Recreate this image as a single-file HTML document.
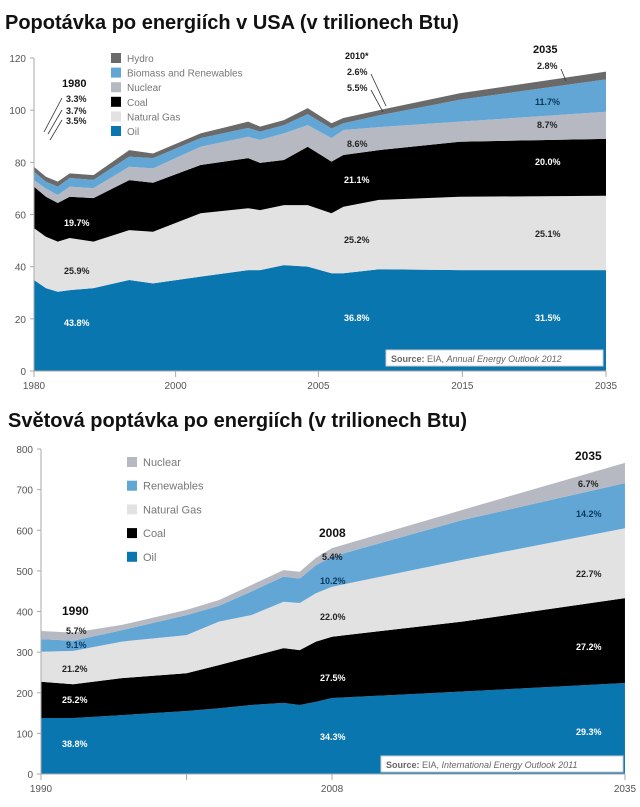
<!DOCTYPE html>
<html><head><meta charset="utf-8"><style>
body{margin:0;background:#fff;width:640px;height:807px;overflow:hidden;font-family:"Liberation Sans","DejaVu Sans",sans-serif}
svg{display:block}
text{font-family:"Liberation Sans","DejaVu Sans",sans-serif}
</style></head><body>
<svg id="c" width="640" height="807">
<text x="5" y="29" font-size="20" font-weight="bold" fill="#111">Popotávka po energiích v USA (v trilionech Btu)</text>
<text x="8" y="427" font-size="20" font-weight="bold" fill="#111">Světová poptávka po energiích (v trilionech Btu)</text>
<g id="top"></g>
<g id="bot"></g>
</svg>
<script>
// ---- US chart data (quadrillion Btu, layer values) ----
const usYears = [1980,1981,1982,1983,1985,1988,1990,1994,1998,1999,2001,2003,2005,2006,2009,2018,2035];
const usOil   = [34.9,31.8,30.4,31.0,31.8,34.9,33.6,36.2,38.7,38.7,40.6,40.0,37.5,37.5,39.0,38.7,38.7];
const usGas   = [19.9,19.7,19.2,20.0,17.8,19.1,19.8,24.3,23.7,23.0,23.0,23.6,23.0,25.5,26.6,28.1,28.5];
const usCoal  = [15.9,15.3,14.8,15.8,16.7,19.2,18.8,18.5,19.2,18.1,17.3,22.4,19.8,19.8,19.1,21.1,21.8];
const usNuc   = [2.5,3.2,3.1,3.9,3.8,5.1,5.5,7.0,8.2,8.8,10.2,8.3,9.0,9.6,8.8,7.7,10.4];
const usBio   = [3.2,2.6,3.2,3.3,3.2,3.9,3.9,3.3,3.4,3.2,3.2,4.2,3.7,2.6,4.5,8.4,12.4];
const usHydro = [1.9,1.9,1.9,1.8,1.8,2.5,1.8,1.8,2.4,1.9,1.9,2.3,2.0,2.0,2.0,2.5,3.0];
const usTickLabels = ["1980","2000","2005","2015","2035"];
const usTickAt = [1980,1991.9,2003.9,2018.3,2035];
const usYTicks = [0,20,40,60,80,100,120];
// ---- World chart data ----
const wYears = [1990,1992,1995,1999,2001,2003,2005,2006,2007,2008,2020,2035];
const wOil   = [138,138,145,155,162,170,175,170,178,187,203,224];
const wCoal  = [89,83,91,93,106,119,135,135,148,151,172,209];
const wGas   = [74,82,90,94,107,102,114,116,119,123,152,172];
const wRen   = [31,25,28,49,39,58,62,60,69,74,98,111];
const wNuc   = [20,20,13,13,14,16,16,17,18,21,25,50];
const wTickLabels = ["1990","","2008","2035"];
const wTickAt = [1990,1999,2008,2035];
const wYTicks = [0,100,200,300,400,500,600,700,800];

const NS="http://www.w3.org/2000/svg";
function mk(p,tag,attrs){const e=document.createElementNS(NS,tag);for(const k in attrs)e.setAttribute(k,attrs[k]);p.appendChild(e);return e;}
function txt(p,x,y,s,size,fill,weight,anchor,style){const t=mk(p,'text',{x:x,y:y,'font-size':size,fill:fill,'font-weight':weight||'normal','text-anchor':anchor||'start'});if(style)t.setAttribute('font-style',style);t.textContent=s;return t;}

function drawChart(g,years,layers,colors,names,xs,ys,yTicks,tickLabels,tickAt,x0,x1,y0){
  let cum=years.map(()=>0);
  layers.forEach((L,li)=>{
    const lo=cum.slice();cum=cum.map((c,i)=>c+L[i]);
    let d='M'+years.map((yr,i)=>xs(yr)+','+ys(cum[i])).join('L');
    for(let i=years.length-1;i>=0;i--)d+='L'+xs(years[i])+','+ys(lo[i]);
    const p=mk(g,'path',{d:d+'Z',fill:colors[li]});
    
    
  });
  mk(g,'line',{x1:x0,y1:ys(yTicks[yTicks.length-1]),x2:x0,y2:y0,stroke:'#aaa','stroke-width':1});
  mk(g,'line',{x1:x0,y1:y0,x2:x1,y2:y0,stroke:'#aaa','stroke-width':1});
  yTicks.forEach(v=>{
    mk(g,'line',{x1:x0-4,y1:ys(v),x2:x0,y2:ys(v),stroke:'#aaa'});
    const t=txt(g,x0-8,ys(v)+4,String(v),10,'#555','normal','end');
    
    
  });
  tickAt.forEach((yr,i)=>{
    mk(g,'line',{x1:xs(yr),y1:y0,x2:xs(yr),y2:y0+6,stroke:'#aaa'});
    const t=txt(g,xs(yr),y0+18,tickLabels[i],10,'#555','normal','middle');
    
    
  });
}

// US chart
const T=document.getElementById('top');
const usX=y=>y<=2010?34+(y-1980)*11.9:391+(y-2010)*8.6;
const usY=v=>371-v*2.608;
drawChart(T,usYears,[usOil,usGas,usCoal,usNuc,usBio,usHydro],
 ['#0a76b0','#e2e2e2','#000','#b6b9c2','#62a6d6','#6a6a6a'],
 ['oil','natural-gas','coal','nuclear','biomass','hydro'],usX,usY,usYTicks,usTickLabels,usTickAt,34,606,371);
const usLeg=[['Hydro','#6a6a6a'],['Biomass and Renewables','#62a6d6'],['Nuclear','#b6b9c2'],['Coal','#000'],['Natural Gas','#e2e2e2'],['Oil','#0a76b0']];
usLeg.forEach((l,i)=>{const y=53+i*14.6;const g=mk(T,'g',{});
 
 
 mk(g,'rect',{x:111,y:y,width:10,height:10,fill:l[1]});txt(g,127,y+9,l[0],10,'#777');});
// annotations US
[['1980',62,87,'#111',true],['3.3%',66,102,'#222'],['3.7%',66,114,'#222'],['3.5%',66,124,'#222'],
 ['19.7%',64,226,'#fff'],['25.9%',64,274,'#222'],['43.8%',64,326,'#fff'],
 ['2010*',345,59,'#111'],['2.6%',347,75,'#222'],['5.5%',347,91,'#222'],['8.6%',347,147,'#222'],['21.1%',344,183,'#fff'],['25.2%',344,243,'#222'],['36.8%',344,321,'#fff'],
 ['2035',533,53,'#111',true],['2.8%',537,69,'#222'],['11.7%',535,105,'#0a3a60'],['8.7%',537,128,'#222'],['20.0%',535,165,'#fff'],['25.1%',535,237,'#222'],['31.5%',535,321,'#fff']
].forEach(a=>{const t=txt(T,a[1],a[2],a[0],a[4]?11:9,a[3],'bold');});
[[62,98,44,132],[62,110,48,134],[62,120,50,140],[371,74,386,106],[371,90,383,112],[561,69,566,81]].forEach(l=>mk(T,'line',{x1:l[0],y1:l[1],x2:l[2],y2:l[3],stroke:'#333','stroke-width':0.8}));
const sb1=mk(T,'g',{});


mk(sb1,'rect',{x:386,y:350,width:217,height:16,fill:'#fff',stroke:'#ccc'});
const s1=txt(sb1,391,362,'',9,'#666');s1.innerHTML='<tspan font-weight="bold">Source:</tspan> EIA, <tspan font-style="italic">Annual Energy Outlook 2012</tspan>';

// World chart
const B=document.getElementById('bot');
const wX=y=>y<=2008?41+(y-1990)*16.17:332+(y-2008)*10.85;
const wY=v=>774-v*0.40625;
drawChart(B,wYears,[wOil,wCoal,wGas,wRen,wNuc],
 ['#0a76b0','#000','#e2e2e2','#62a6d6','#b6b9c2'],
 ['oil','coal','natural-gas','renewables','nuclear'],wX,wY,wYTicks,wTickLabels,wTickAt,41,625,774);
const wLeg=[['Nuclear','#b6b9c2'],['Renewables','#62a6d6'],['Natural Gas','#e2e2e2'],['Coal','#000'],['Oil','#0a76b0']];
wLeg.forEach((l,i)=>{const y=457+i*23.7;const g=mk(B,'g',{});
 
 
 mk(g,'rect',{x:127,y:y,width:10,height:10,fill:l[1]});txt(g,143,y+9,l[0],11,'#777');});
[['1990',62,615,'#111',true],['5.7%',66,634,'#222'],['9.1%',66,648,'#0a3a60'],['21.2%',62,672,'#222'],['25.2%',62,703,'#fff'],['38.8%',62,747,'#fff'],
 ['2008',319,537,'#111',true],['5.4%',322,560,'#222'],['10.2%',320,584,'#0a3a60'],['22.0%',320,620,'#222'],['27.5%',320,681,'#fff'],['34.3%',320,740,'#fff'],
 ['2035',575,460,'#111',true],['6.7%',578,487,'#222'],['14.2%',576,517,'#0a3a60'],['22.7%',576,577,'#222'],['27.2%',576,650,'#fff'],['29.3%',576,735,'#fff']
].forEach(a=>{const t=txt(B,a[1],a[2],a[0],a[4]?12:9,a[3],'bold');});
const sb2=mk(B,'g',{});


mk(sb2,'rect',{x:381,y:756,width:242,height:16,fill:'#fff',stroke:'#ccc'});
const s2=txt(sb2,386,768,'',9,'#666');s2.innerHTML='<tspan font-weight="bold">Source:</tspan> EIA, <tspan font-style="italic">International Energy Outlook 2011</tspan>';
</script>
</body></html>
